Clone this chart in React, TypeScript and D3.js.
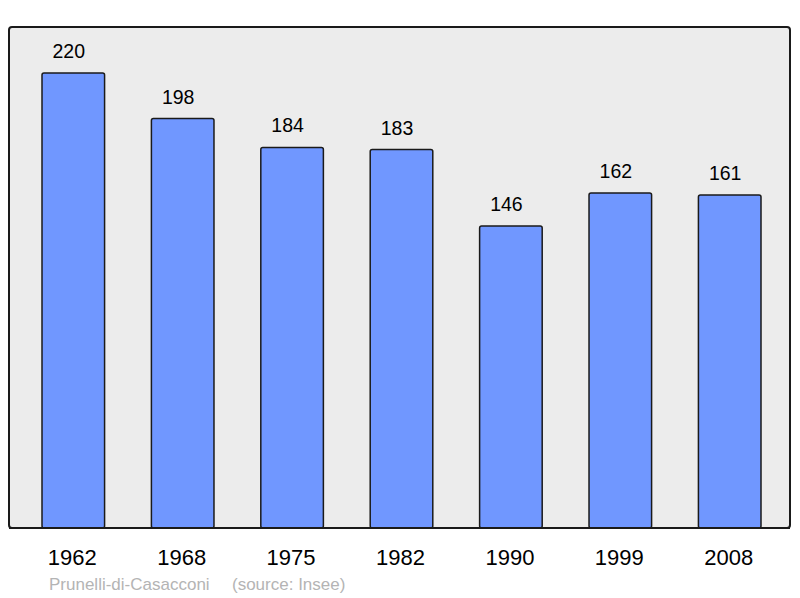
import React, { useRef, useEffect } from "react";
import * as d3 from "d3";

const years = ["1962", "1968", "1975", "1982", "1990", "1999", "2008"];
const population = [220, 198, 184, 183, 146, 162, 161];
const commune = "Prunelli-di-Casacconi";
const source = "(source: Insee)";

const App = () => {
  const svgRef = useRef<SVGSVGElement>(null);

  const drawChart = () => {
    const svg = d3.select(svgRef.current);
    svg.selectAll("*").remove();

    /* scales */
    const xScale = d3
      .scaleBand<string>()
      .domain(years)
      .range([42, 761])
      .paddingInner(0.428)
      .paddingOuter(0);

    const yScale = d3.scaleLinear().domain([0, 220]).range([528, 73]);

    /* frame */
    svg
      .append("rect")
      .attr("x", 9)
      .attr("y", 27)
      .attr("width", 781)
      .attr("height", 501)
      .attr("rx", 3)
      .attr("fill", "#ececec")
      .attr("stroke", "#1a1a1a")
      .attr("stroke-width", 2);

    /* bars */
    svg
      .selectAll("rect.bar")
      .data(years)
      .enter()
      .append("rect")
      .attr("class", "bar")
      .attr("x", (d) => xScale(d)!)
      .attr("y", (d, i) => yScale(population[i]))
      .attr("width", xScale.bandwidth())
      .attr("height", (d, i) => yScale(0) - yScale(population[i]))
      .attr("rx", 2)
      .attr("fill", "#7097ff")
      .attr("stroke", "#1a1a1a")
      .attr("stroke-width", 1.5);

    /* redraw bottom frame line over bars */
    svg
      .append("line")
      .attr("x1", 9)
      .attr("x2", 790)
      .attr("y1", 528)
      .attr("y2", 528)
      .attr("stroke", "#1a1a1a")
      .attr("stroke-width", 2);

    /* value labels (sit a little left of bar centre, as in the original) */
    svg
      .selectAll("text.value")
      .data(years)
      .enter()
      .append("text")
      .attr("class", "value")
      .attr("x", (d) => xScale(d)! + xScale.bandwidth() / 2 - 4.5)
      .attr("y", (d, i) => yScale(population[i]) - 15)
      .attr("text-anchor", "middle")
      .style("font-family", "'Liberation Sans', Arial, sans-serif")
      .style("font-size", "19.5px")
      .attr("fill", "#000")
      .text((d, i) => population[i]);

    /* year labels */
    svg
      .selectAll("text.year")
      .data(years)
      .enter()
      .append("text")
      .attr("class", "year")
      .attr("x", (d) => xScale(d)! + xScale.bandwidth() / 2 - 1)
      .attr("y", 565)
      .attr("text-anchor", "middle")
      .style("font-family", "'Liberation Sans', Arial, sans-serif")
      .style("font-size", "22px")
      .attr("fill", "#000")
      .text((d) => d);

    /* footer */
    svg
      .append("text")
      .attr("x", 49)
      .attr("y", 590)
      .style("font-family", "'Liberation Sans', Arial, sans-serif")
      .style("font-size", "17px")
      .attr("fill", "#b4b4b4")
      .text(commune);

    svg
      .append("text")
      .attr("x", 232)
      .attr("y", 590)
      .style("font-family", "'Liberation Sans', Arial, sans-serif")
      .style("font-size", "17px")
      .attr("fill", "#b4b4b4")
      .text(source);
  };

  useEffect(() => {
    drawChart();
  }, []);

  return (
    <svg
      ref={svgRef}
      width={800}
      height={598}
      style={{ position: "absolute", left: 0, top: 0, background: "#fff" }}
    ></svg>
  );
};

export default App;
